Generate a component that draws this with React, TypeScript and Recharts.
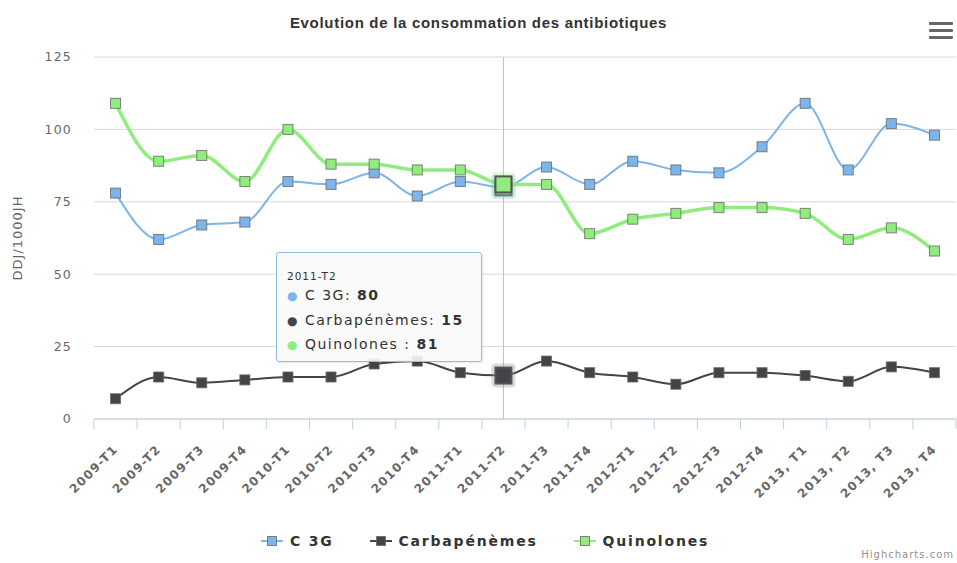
import { LineChart, Line, XAxis, YAxis, CartesianGrid, Tooltip, Legend } from 'recharts';

const periods = [
  '2009-T1', '2009-T2', '2009-T3', '2009-T4',
  '2010-T1', '2010-T2', '2010-T3', '2010-T4',
  '2011-T1', '2011-T2', '2011-T3', '2011-T4',
  '2012-T1', '2012-T2', '2012-T3', '2012-T4',
  '2013, T1', '2013, T2', '2013, T3', '2013, T4',
];
const c3g = [78, 62, 67, 68, 82, 81, 85, 77, 82, 80, 87, 81, 89, 86, 85, 94, 109, 86, 102, 98];
const carbapenemes = [7, 14.5, 12.5, 13.5, 14.5, 14.5, 19, 20, 16, 15, 20, 16, 14.5, 12, 16, 16, 15, 13, 18, 16];
const quinolones = [109, 89, 91, 82, 100, 88, 88, 86, 86, 81, 81, 64, 69, 71, 73, 73, 71, 62, 66, 58];
const yTicks = [0, 25, 50, 75, 100, 125];

const series = [
  { key: 'c3g', name: 'C 3G', color: '#7CB5EC', width: 2 },
  { key: 'carba', name: 'Carbapénèmes', color: '#434348', width: 2 },
  { key: 'quino', name: 'Quinolones ', color: '#90ED7D', width: 3.5 },
];

const data = periods.map((p, i) => ({
  period: p,
  c3g: c3g[i],
  carba: carbapenemes[i],
  quino: quinolones[i],
}));

const W = 957;
const H = 563;
const PLOT_LEFT = 94;
const PLOT_RIGHT = 956;
const HALF = (PLOT_RIGHT - PLOT_LEFT) / periods.length / 2;
const FONT = '"DejaVu Sans", Verdana, sans-serif';

function squareDot(color: string) {
  return (props: any) => {
    const { cx, cy, index } = props;
    if (cx == null || cy == null) return <g key={index} />;
    return (
      <rect key={index} x={cx - 5} y={cy - 5} width={10} height={10}
        fill={color} stroke="#666" strokeOpacity={0.8} strokeWidth={1} />
    );
  };
}

function activeSquare(color: string, halo: string) {
  return (props: any) => {
    const { cx, cy } = props;
    if (cx == null || cy == null) return <g />;
    return (
      <g>
        <rect x={cx - 12} y={cy - 12} width={24} height={24} rx={4} fill={halo} fillOpacity={0.3} />
        <rect x={cx - 8} y={cy - 8} width={16} height={16} fill={color} stroke="#555" strokeWidth={2} />
      </g>
    );
  };
}

function XTick(props: any) {
  const { x, y, payload, index } = props;
  const tx = x + 3;
  const ty = y + 23;
  return (
    <g>
      <line x1={x - HALF} x2={x - HALF} y1={y - 8} y2={y + 2} stroke="#C0D0E0" />
      {index === periods.length - 1 && (
        <line x1={x + HALF} x2={x + HALF} y1={y - 8} y2={y + 2} stroke="#C0D0E0" />
      )}
      <text x={tx} y={ty} textAnchor="end" transform={`rotate(-45 ${tx} ${ty})`}
        fill="#666" fontSize={12} fontWeight="bold" fontFamily={FONT} letterSpacing={1.3}>
        {payload.value}
      </text>
    </g>
  );
}

function TipContent(props: any) {
  const { label, payload } = props;
  if (!payload || !payload.length) return null;
  return (
    <div style={{
      width: 206, height: 110, boxSizing: 'border-box', background: 'rgba(249,249,249,0.9)',
      border: '1px solid #8CBDEB', borderRadius: 3, padding: '17px 10px', fontFamily: FONT,
      color: '#333', letterSpacing: 1.5, boxShadow: '1px 1px 2px rgba(0,0,0,0.1)',
    }}>
      <div style={{ fontSize: 10.5, marginBottom: 2, letterSpacing: 1 }}>{label}</div>
      {payload.map((p: any) => (
        <div key={p.dataKey} style={{ fontSize: 14, lineHeight: '23.5px', whiteSpace: 'nowrap' }}>
          <span style={{ color: p.color, fontSize: 12 }}>●</span> {p.name}: <b>{p.value}</b>
        </div>
      ))}
    </div>
  );
}

function LegendContent() {
  return (
    <div style={{ height: 24, display: 'flex', justifyContent: 'center', alignItems: 'center', gap: 36, paddingLeft: 14, fontFamily: FONT }}>
      {series.map((s) => (
        <div key={s.key} style={{ display: 'flex', alignItems: 'center', gap: 7 }}>
          <svg width={22} height={14}>
            <line x1={0} x2={22} y1={7} y2={7} stroke={s.color} strokeWidth={2} />
            <rect x={6.5} y={2.5} width={9} height={9} fill={s.color} stroke="#666" strokeOpacity={0.8} />
          </svg>
          <span style={{ fontSize: 14, fontWeight: 'bold', color: '#333', letterSpacing: 1.8 }}>{s.name.trim()}</span>
        </div>
      ))}
    </div>
  );
}

export default function App() {
  return (
    <div style={{ position: 'absolute', left: 0, top: 0, width: W, height: H, background: '#fff' }}>
      <div style={{
        position: 'absolute', left: 0, width: W, top: 14, textAlign: 'center', letterSpacing: 0.7,
        fontFamily: '"Liberation Sans", Arial, sans-serif', fontWeight: 'bold', fontSize: 15, color: '#333',
      }}>
        Evolution de la consommation des antibiotiques
      </div>
      <div style={{ position: 'absolute', left: 929, top: 22, width: 24 }}>
        {[0, 1, 2].map((i) => (
          <div key={i} style={{ height: 3, background: '#666', marginBottom: 4, borderRadius: 1 }} />
        ))}
      </div>
      <LineChart width={W} height={H} data={data} margin={{ top: 57, right: W - PLOT_RIGHT, bottom: 10, left: 0 }}>
        <CartesianGrid vertical={false} stroke="#D8D8D8" />
        <XAxis dataKey="period" interval={0} height={110} tickLine={false}
          axisLine={{ stroke: '#C0D0E0' }} padding={{ left: HALF, right: HALF }} tick={<XTick />} />
        <YAxis domain={[0, 125]} ticks={yTicks} width={PLOT_LEFT} axisLine={false} tickLine={false}
          tickSize={0} tickMargin={22}
          tick={{ fill: '#666', fontSize: 12.5, fontFamily: FONT, letterSpacing: 1.2 }}
          label={{
            content: () => (
              <text x={22} y={238} transform="rotate(-90 22 238)" textAnchor="middle"
                fill="#666" fontSize={13} fontFamily={FONT} letterSpacing={1}>
                DDJ/1000JH
              </text>
            ),
          }} />
        <Tooltip defaultIndex={9} isAnimationActive={false} position={{ x: 276, y: 252 }}
          cursor={{ stroke: '#C0C0C0', strokeWidth: 1 }} content={<TipContent />} />
        <Legend verticalAlign="bottom" content={<LegendContent />} />
        {series.map((s) => (
          <Line key={s.key} type="monotone" dataKey={s.key} name={s.name} stroke={s.color}
            strokeWidth={s.width} isAnimationActive={false}
            dot={squareDot(s.color)}
            activeDot={activeSquare(s.color, s.key === 'carba' ? '#888' : s.color)} />
        ))}
      </LineChart>
      <div style={{
        position: 'absolute', right: 3, top: 549, fontFamily: FONT, fontSize: 10,
        color: '#909090', letterSpacing: 1,
      }}>
        Highcharts.com
      </div>
    </div>
  );
}
